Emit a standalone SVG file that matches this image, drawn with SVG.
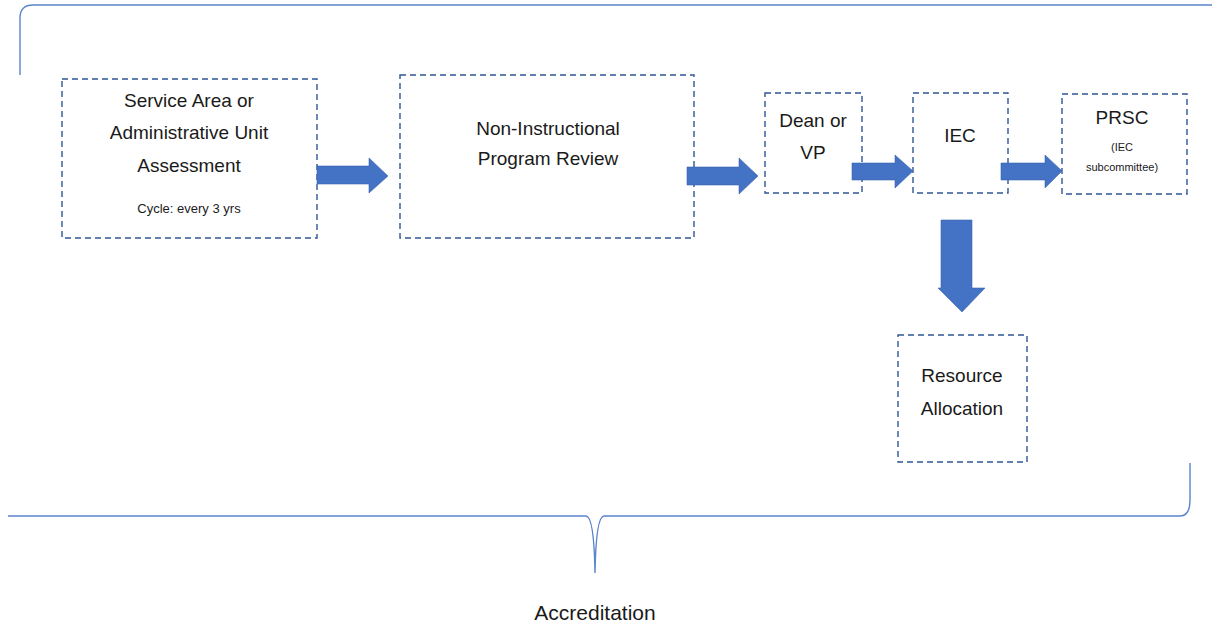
<svg xmlns="http://www.w3.org/2000/svg" width="1212" height="628" viewBox="0 0 1212 628">
<defs>
<style>
.box{fill:#ffffff;stroke:#2F5597;stroke-width:1.4;stroke-dasharray:6 4}
.arr{fill:#4472C4;stroke:#3A65B0;stroke-width:0.6}
.brace{fill:none;stroke:#5B84CC;stroke-width:1.4}
.t{font-family:"Liberation Sans",Arial,sans-serif;fill:#1a1a1a;text-anchor:middle}
.l{font-size:19px}
.s{font-size:13px}
.xs{font-size:11px}
</style>
</defs>
<rect width="1212" height="628" fill="#ffffff"/>
<g id="braces">
<path class="brace" d="M20,75 L20,18 Q20,5 33,5 L1212,5"/>
<path class="brace" d="M8,516 L586,516 Q594,516 595,573 Q596,516 604,516 L1180,516 Q1190,516 1190,500 L1190,463"/>
</g>
<g id="node-service">
<rect class="box" x="62" y="79" width="255" height="159"/>
<text class="t l" x="189" y="107">Service Area or</text>
<text class="t l" x="189" y="139">Administrative Unit</text>
<text class="t l" x="189" y="172">Assessment</text>
<text class="t s" x="189" y="213">Cycle: every 3 yrs</text>
</g>
<g id="node-nipr">
<rect class="box" x="400" y="75" width="294" height="163"/>
<text class="t l" x="548" y="135">Non-Instructional</text>
<text class="t l" x="548" y="165">Program Review</text>
</g>
<g id="node-dean">
<rect class="box" x="765" y="93" width="97" height="100"/>
<text class="t l" x="813" y="127">Dean or</text>
<text class="t l" x="813" y="159">VP</text>
</g>
<g id="node-iec">
<rect class="box" x="913" y="93" width="95" height="100"/>
<text class="t l" x="960" y="142">IEC</text>
</g>
<g id="node-prsc">
<rect class="box" x="1062" y="94" width="125" height="100"/>
<text class="t l" x="1122" y="124">PRSC</text>
<text class="t xs" x="1122" y="151">(IEC</text>
<text class="t xs" x="1122" y="171">subcommittee)</text>
</g>
<g id="node-resource">
<rect class="box" x="898" y="335" width="129" height="127"/>
<text class="t l" x="962" y="382">Resource</text>
<text class="t l" x="962" y="415">Allocation</text>
</g>
<g id="connectors">
<path class="arr" d="M317,166 L369,166 L369,158 L388,176 L369,193 L369,184 L317,184 Z"/>
<path class="arr" d="M687,167 L739,167 L739,158 L758,176 L739,194 L739,185 L687,185 Z"/>
<path class="arr" d="M852,163 L895,163 L895,155 L913,171 L895,188 L895,180 L852,180 Z"/>
<path class="arr" d="M1001,163 L1045,163 L1045,155 L1062,171 L1045,188 L1045,180 L1001,180 Z"/>
<path class="arr" d="M941,220 L972,220 L972,288 L985,288 L962,312 L938,288 L941,288 Z"/>
</g>
<g id="label-accreditation">
<text class="t" x="595" y="620" style="font-size:21px">Accreditation</text>
</g>
</svg>
